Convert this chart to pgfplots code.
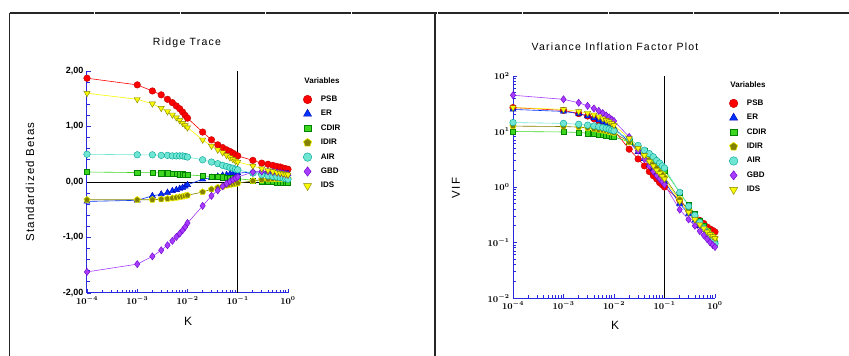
\documentclass[border=0pt]{standalone}
\usepackage{fontspec}
\setmainfont{Liberation Sans}
\usepackage{pgfplots}
\usepackage{pgfplotstable}
\pgfplotsset{compat=1.18}
\definecolor{axblue}{RGB}{40,40,220}
\definecolor{cPSBf}{RGB}{255,0,0}\definecolor{cPSBd}{RGB}{190,0,0}
\definecolor{cERf}{RGB}{0,50,255}\definecolor{cERd}{RGB}{0,0,170}
\definecolor{cCDf}{RGB}{60,215,30}\definecolor{cCDd}{RGB}{0,130,0}
\definecolor{cIDf}{RGB}{130,130,0}\definecolor{cIDd}{RGB}{240,240,0}
\definecolor{cAIf}{RGB}{110,230,210}\definecolor{cAId}{RGB}{0,160,150}
\definecolor{cGBf}{RGB}{165,60,255}\definecolor{cGBd}{RGB}{110,0,200}
\definecolor{cISf}{RGB}{250,250,0}\definecolor{cISd}{RGB}{130,130,0}

\pgfplotstableread{
K PSB ER CDIR IDIR AIR GBD IDS
0.0001 1.87 -0.35 0.18 -0.32 0.50 -1.62 1.60
0.001 1.75 -0.33 0.17 -0.32 0.49 -1.48 1.49
0.002 1.64 -0.25 0.17 -0.32 0.49 -1.34 1.41
0.003 1.57 -0.22 0.16 -0.31 0.48 -1.23 1.33
0.004 1.49 -0.19 0.16 -0.30 0.48 -1.14 1.27
0.005 1.43 -0.16 0.15 -0.29 0.47 -1.06 1.21
0.006 1.37 -0.14 0.15 -0.28 0.47 -0.99 1.16
0.007 1.32 -0.12 0.14 -0.27 0.47 -0.93 1.11
0.008 1.26 -0.10 0.14 -0.26 0.47 -0.87 1.06
0.009 1.20 -0.08 0.13 -0.25 0.46 -0.81 1.02
0.01 1.15 -0.05 0.13 -0.24 0.45 -0.74 0.98
0.02 0.90 0.05 0.11 -0.18 0.40 -0.43 0.76
0.03 0.76 0.08 0.10 -0.13 0.36 -0.25 0.65
0.04 0.67 0.10 0.09 -0.10 0.33 -0.15 0.58
0.05 0.62 0.12 0.085 -0.08 0.30 -0.08 0.53
0.06 0.58 0.13 0.08 -0.06 0.28 -0.03 0.48
0.07 0.55 0.14 0.075 -0.05 0.26 0.01 0.44
0.08 0.52 0.15 0.07 -0.04 0.25 0.04 0.41
0.09 0.49 0.155 0.065 -0.03 0.23 0.07 0.38
0.1 0.47 0.16 0.06 -0.02 0.22 0.09 0.36
0.2 0.39 0.18 0.03 0.02 0.16 0.18 0.29
0.3 0.34 0.18 0.015 0.04 0.13 0.19 0.24
0.4 0.32 0.175 0.005 0.05 0.11 0.19 0.21
0.5 0.30 0.17 0.0 0.055 0.10 0.18 0.19
0.6 0.28 0.165 -0.005 0.06 0.09 0.17 0.17
0.7 0.27 0.16 -0.01 0.06 0.08 0.16 0.16
0.8 0.25 0.155 -0.01 0.06 0.07 0.15 0.15
0.9 0.24 0.15 -0.015 0.06 0.06 0.14 0.14
1 0.23 0.15 -0.015 0.06 0.05 0.13 0.13
}\betas

\pgfplotstableread{
K PSB ER CDIR IDIR AIR GBD IDS
0.0001 27 25 10 12.5 14.5 45 27
0.001 24 23 9.8 12.3 14 38 25
0.002 21 21 9.6 12 13.5 33 23
0.003 19 19 9.3 11.6 13 29 21.5
0.004 17 17.5 9.1 11.2 12.6 26 20
0.005 15.5 16 8.9 10.8 12.2 23.5 18.5
0.006 14 15 8.7 10.5 11.8 21.5 17
0.007 13 14 8.5 10.2 11.4 19.5 16
0.008 12 13 8.3 9.9 11 18 15
0.009 11 12.3 8.1 9.7 10.6 16.5 14
0.01 10.5 11.5 8.0 9.5 10.3 15.5 13
0.02 4.8 6.5 6.5 6.5 7.5 8 7.5
0.03 3.2 4.3 5.2 4.8 5.6 4.5 5
0.04 2.4 3.2 4.4 3.8 4.6 3.2 3.7
0.05 1.9 2.5 3.7 3.1 4.0 2.4 2.9
0.06 1.6 2.1 3.2 2.6 3.5 1.9 2.4
0.07 1.4 1.8 2.8 2.2 3.0 1.6 2.0
0.08 1.2 1.55 2.5 1.9 2.7 1.4 1.75
0.09 1.1 1.4 2.2 1.7 2.4 1.25 1.55
0.1 1.0 1.25 2.0 1.5 2.2 1.1 1.4
0.2 0.58 0.5 0.8 0.6 0.8 0.39 0.55
0.3 0.38 0.33 0.47 0.38 0.45 0.26 0.35
0.4 0.3 0.25 0.33 0.28 0.31 0.2 0.26
0.5 0.25 0.2 0.25 0.22 0.23 0.16 0.21
0.6 0.22 0.17 0.2 0.18 0.18 0.135 0.18
0.7 0.19 0.15 0.16 0.16 0.15 0.115 0.155
0.8 0.175 0.13 0.135 0.14 0.125 0.1 0.14
0.9 0.165 0.12 0.115 0.13 0.11 0.09 0.13
1 0.155 0.11 0.1 0.12 0.095 0.083 0.12
}\vifs

\begin{document}
\begin{tikzpicture}[x=1pt,y=1pt]
\path[use as bounding box] (0,0) rectangle (849,356);
% frame
\draw[line width=1.2pt, black!85] (9.5,0) -- (9.5,343);
\draw[line width=1.2pt, black!85, dash pattern=on 84.6pt off 1pt] (9.5,343) -- (849,343);
\draw[line width=2.8pt, black!85] (435,0) -- (435,343.6);

% ---------- Ridge trace ----------
\begin{axis}[at={(87pt,63pt)}, anchor=south west, width=201pt, height=222pt,
  scale only axis, xmode=log, xmin=1e-4, xmax=1,
  axis x line*=bottom, axis y line*=left,
  axis line style={draw=axblue, line width=1pt},
  every tick/.style={axblue, line width=0.8pt},
  tick align=inside,
  major tick length=4pt, minor tick length=3pt,
  xtick={1e-4,1e-3,1e-2,1e-1,1},
  tick label style={font=\fontsize{9}{10}\selectfont\bfseries\boldmath},
  clip=false,
  ymin=-2, ymax=2, ytick={-2,-1,0,1,2},
  yticklabels={{-2,00},{-1,00},{0,00},{1,00},{2,00}},
  minor y tick num=4,
  legend cell align=left,
  legend image code/.code={\draw[#1, only marks, every mark/.append style={scale=1.3}] plot coordinates {(0pt,0pt)};},
  legend style={at={(1.075,0.905)}, draw=none, fill=none, anchor=north west, inner sep=0pt, row sep=0pt, column sep=9pt,
      font=\fontsize{8}{9}\selectfont\bfseries,
      nodes={inner sep=0pt, minimum height=14.4pt, anchor=west}}]
\addplot[black, line width=0.8pt, mark=none, forget plot] coordinates {(1e-4,0) (1,0)};
\addplot[black, line width=0.8pt, mark=none, forget plot] coordinates {(0.1,-2) (0.1,2)};
\addplot[color=cPSBf, line width=0.6pt, mark=*, mark size=3.3pt, mark options={fill=cPSBf, draw=cPSBd, line width=0.4pt}] table[x=K,y=PSB]{\betas}; \addlegendentry{PSB}
\addplot[color=cERf, line width=0.6pt, mark=triangle*, mark size=3.6pt, mark options={fill=cERf, draw=cERd, line width=0.4pt}] table[x=K,y=ER]{\betas};  \addlegendentry{ER}
\addplot[color=cCDf, line width=0.6pt, mark=square*, mark size=2.6pt, mark options={fill=cCDf, draw=cCDd, line width=0.4pt}] table[x=K,y=CDIR]{\betas}; \addlegendentry{CDIR}
\addplot[color=cIDf, line width=0.6pt, mark=pentagon*, mark size=3.3pt, mark options={fill=cIDf, draw=cIDd, line width=0.6pt}] table[x=K,y=IDIR]{\betas}; \addlegendentry{IDIR}
\addplot[color=cAIf, line width=0.6pt, mark=*, mark size=3.3pt, mark options={fill=cAIf, draw=cAId, line width=0.4pt}] table[x=K,y=AIR]{\betas}; \addlegendentry{AIR}
\addplot[color=cGBf, line width=0.6pt, mark=diamond*, mark size=3.6pt, mark options={fill=cGBf, draw=cGBd, line width=0.4pt}] table[x=K,y=GBD]{\betas}; \addlegendentry{GBD}
\addplot[color=cISf, line width=0.6pt, mark=triangle*, mark size=3.6pt, mark options={fill=cISf, draw=cISd, line width=0.4pt, rotate=180}] table[x=K,y=IDS]{\betas}; \addlegendentry{IDS}
\end{axis}

% ---------- VIF ----------
\begin{axis}[at={(513pt,58pt)}, anchor=south west, width=202pt, height=222pt,
  scale only axis, xmode=log, xmin=1e-4, xmax=1,
  axis x line*=bottom, axis y line*=left,
  axis line style={draw=axblue, line width=1pt},
  every tick/.style={axblue, line width=0.8pt},
  tick align=inside,
  major tick length=4pt, minor tick length=3pt,
  xtick={1e-4,1e-3,1e-2,1e-1,1},
  tick label style={font=\fontsize{9}{10}\selectfont\bfseries\boldmath},
  clip=false,
  ymode=log, ymin=1e-2, ymax=1e2, ytick={1e-2,1e-1,1,1e1,1e2},
  legend cell align=left,
  legend image code/.code={\draw[#1, only marks, every mark/.append style={scale=1.3}] plot coordinates {(0pt,0pt)};},
  legend style={at={(1.07,0.91)}, draw=none, fill=none, anchor=north west, inner sep=0pt, row sep=0pt, column sep=9pt,
      font=\fontsize{8}{9}\selectfont\bfseries,
      nodes={inner sep=0pt, minimum height=14.4pt, anchor=west}}]
\addplot[black, line width=0.8pt, mark=none, forget plot] coordinates {(0.1,1e-2) (0.1,1e2)};
\addplot[color=cPSBf, line width=0.6pt, mark=*, mark size=3.3pt, mark options={fill=cPSBf, draw=cPSBd, line width=0.4pt}] table[x=K,y=PSB]{\vifs}; \addlegendentry{PSB}
\addplot[color=cERf, line width=0.6pt, mark=triangle*, mark size=3.6pt, mark options={fill=cERf, draw=cERd, line width=0.4pt}] table[x=K,y=ER]{\vifs};  \addlegendentry{ER}
\addplot[color=cCDf, line width=0.6pt, mark=square*, mark size=2.6pt, mark options={fill=cCDf, draw=cCDd, line width=0.4pt}] table[x=K,y=CDIR]{\vifs}; \addlegendentry{CDIR}
\addplot[color=cIDf, line width=0.6pt, mark=pentagon*, mark size=3.3pt, mark options={fill=cIDf, draw=cIDd, line width=0.6pt}] table[x=K,y=IDIR]{\vifs}; \addlegendentry{IDIR}
\addplot[color=cAIf, line width=0.6pt, mark=*, mark size=3.3pt, mark options={fill=cAIf, draw=cAId, line width=0.4pt}] table[x=K,y=AIR]{\vifs}; \addlegendentry{AIR}
\addplot[color=cGBf, line width=0.6pt, mark=diamond*, mark size=3.6pt, mark options={fill=cGBf, draw=cGBd, line width=0.4pt}] table[x=K,y=GBD]{\vifs}; \addlegendentry{GBD}
\addplot[color=cISf, line width=0.6pt, mark=triangle*, mark size=3.6pt, mark options={fill=cISf, draw=cISd, line width=0.4pt, rotate=180}] table[x=K,y=IDS]{\vifs}; \addlegendentry{IDS}
\end{axis}

% texts
\node[font=\fontsize{10.5}{12}\selectfont\addfontfeature{LetterSpace=12}] at (187,313) {Ridge Trace};
\node[font=\fontsize{10.5}{12}\selectfont\addfontfeature{LetterSpace=12}] at (615,309) {Variance Inflation Factor Plot};
\node[font=\fontsize{11.5}{13}\selectfont\addfontfeature{LetterSpace=10}, rotate=90] at (30,174) {Standardized Betas};
\node[font=\fontsize{11.5}{13}\selectfont\addfontfeature{LetterSpace=10}, rotate=90] at (456,168) {VIF};
\node[font=\fontsize{12}{13}\selectfont] at (188,35) {K};
\node[font=\fontsize{12}{13}\selectfont] at (615,31) {K};
\node[font=\fontsize{8}{9}\selectfont\bfseries] at (322,275) {Variables};
\node[font=\fontsize{8}{9}\selectfont\bfseries] at (748,271) {Variables};
\end{tikzpicture}
\end{document}
